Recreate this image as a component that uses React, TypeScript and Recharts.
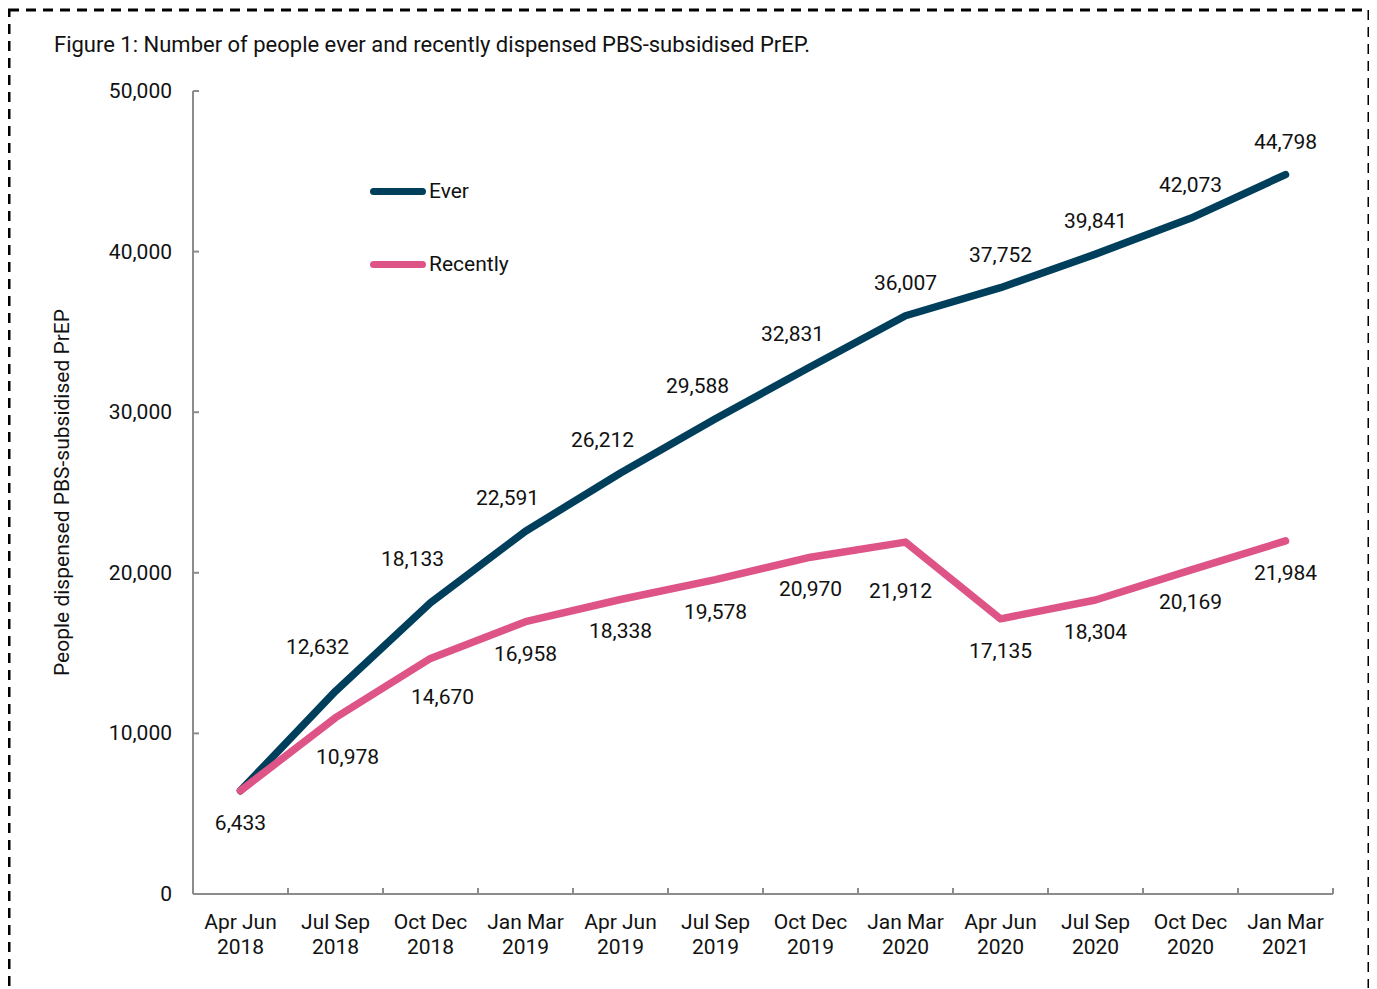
import { CartesianGrid, LabelList, Line, LineChart, XAxis, YAxis } from "recharts";

const QUARTERS = [
  "Apr Jun 2018", "Jul Sep 2018", "Oct Dec 2018", "Jan Mar 2019",
  "Apr Jun 2019", "Jul Sep 2019", "Oct Dec 2019", "Jan Mar 2020",
  "Apr Jun 2020", "Jul Sep 2020", "Oct Dec 2020", "Jan Mar 2021",
];
const EVER = [6433, 12632, 18133, 22591, 26212, 29588, 32831, 36007, 37752, 39841, 42073, 44798];
const RECENTLY = [6433, 10978, 14670, 16958, 18338, 19578, 20970, 21912, 17135, 18304, 20169, 21984];
const Y_TICKS = [0, 10000, 20000, 30000, 40000, 50000];
const SERIES = ["Ever", "Recently"];
const COLORS = ["#003f5c", "#de5486"];

const TITLE = "Figure 1: Number of people ever and recently dispensed PBS-subsidised PrEP.";
const Y_LABEL = "People dispensed PBS-subsidised PrEP";

const W = 1361;
const H = 980;
const MARGIN = { top: 83, right: 36, left: 105, bottom: 34 };
const Y_AXIS_W = 80;
const X_AXIS_H = 60;
const BAND = (W - MARGIN.left - Y_AXIS_W - MARGIN.right) / QUARTERS.length;
const AXIS_COLOR = "#8c8c8c";
const FONT = "Roboto, 'Noto Sans', sans-serif";
const FS = 21;

const data = QUARTERS.map((q, i) => ({ quarter: q, ever: EVER[i], recently: RECENTLY[i] }));

const fmt = (v: number) => v.toLocaleString("en-US");

function XTick(props: any) {
  const { x, y, payload, index } = props;
  const label: string = payload.value;
  const cut = label.lastIndexOf(" ");
  const isLast = index === QUARTERS.length - 1;
  return (
    <g>
      {index > 0 && (
        <line x1={x - BAND / 2} x2={x - BAND / 2} y1={y} y2={y - 6} stroke={AXIS_COLOR} strokeWidth={2} />
      )}
      {isLast && (
        <line x1={x + BAND / 2} x2={x + BAND / 2} y1={y} y2={y - 6} stroke={AXIS_COLOR} strokeWidth={2} />
      )}
      <text x={x} y={y + 35} textAnchor="middle" fontSize={FS} fill="#111" fontFamily={FONT}>
        {label.slice(0, cut)}
      </text>
      <text x={x} y={y + 60} textAnchor="middle" fontSize={FS} fill="#111" fontFamily={FONT}>
        {label.slice(cut + 1)}
      </text>
    </g>
  );
}

function YTick(props: any) {
  const { x, y, payload } = props;
  return (
    <g>
      <line x1={x} x2={x + 6} y1={y} y2={y} stroke={AXIS_COLOR} strokeWidth={2} />
      <text x={x - 21} y={y} textAnchor="end" dominantBaseline="central" fontSize={FS} fill="#111" fontFamily={FONT}>
        {fmt(payload.value)}
      </text>
    </g>
  );
}

function EverLabel(props: any) {
  const { x, y, value, index } = props;
  if (index === 0) return null;
  const rise = EVER[index] - EVER[index - 1];
  const dx = rise > 3200 ? -18 : 0;
  const dy = rise > 5000 ? -44 : -33;
  return (
    <text x={x + dx} y={y + dy} textAnchor="middle" dominantBaseline="central" fontSize={FS} fill="#111" fontFamily={FONT}>
      {fmt(value)}
    </text>
  );
}

function RecentLabel(props: any) {
  const { x, y, value, index } = props;
  const rise = index > 0 ? RECENTLY[index] - RECENTLY[index - 1] : 0;
  const drop = index < RECENTLY.length - 1 ? RECENTLY[index] - RECENTLY[index + 1] : 0;
  let dx = 0;
  let dy = 32;
  if (rise > 3000) {
    dx = 12;
    dy += 7;
  }
  if (drop > 2000) {
    dx = -5;
    dy += 17;
  }
  return (
    <text x={x + dx} y={y + dy} textAnchor="middle" dominantBaseline="central" fontSize={FS} fill="#111" fontFamily={FONT}>
      {fmt(value)}
    </text>
  );
}

function YAxisTitle(props: any) {
  const { viewBox } = props;
  const cx = viewBox.x - 51;
  const cy = viewBox.y + viewBox.height / 2;
  return (
    <text
      x={cx}
      y={cy}
      transform={`rotate(-90, ${cx}, ${cy})`}
      textAnchor="middle"
      dominantBaseline="central"
      fontSize={FS}
      fill="#111"
      fontFamily={FONT}
    >
      {Y_LABEL}
    </text>
  );
}

export default function App() {
  return (
    <div style={{ position: "relative", width: W, height: H, fontFamily: FONT }}>
      <svg width={W} height={H + 20} style={{ position: "absolute", left: 0, top: 0 }}>
        <rect x={1} y={2} width={1360} height={1100} fill="none" stroke="#000" strokeWidth={3} strokeDasharray="10 7" />
      </svg>
      <div style={{ position: "absolute", left: 46, top: 24, fontSize: 22, color: "#111", whiteSpace: "nowrap" }}>
        {TITLE}
      </div>
      <div style={{ position: "absolute", left: 0, top: 0 }}>
        <LineChart width={W} height={H} data={data} margin={MARGIN}>
          <CartesianGrid stroke="none" />
          <XAxis
            dataKey="quarter"
            scale="band"
            interval={0}
            height={X_AXIS_H}
            tickLine={false}
            tickSize={0}
            tickMargin={0}
            axisLine={{ stroke: AXIS_COLOR, strokeWidth: 2 }}
            tick={<XTick />}
          />
          <YAxis
            width={Y_AXIS_W}
            domain={[0, 50000]}
            ticks={Y_TICKS}
            interval={0}
            tickLine={false}
            tickSize={0}
            tickMargin={0}
            axisLine={{ stroke: AXIS_COLOR, strokeWidth: 2 }}
            tick={<YTick />}
            label={<YAxisTitle />}
          />
          <Line
            dataKey="ever"
            name={SERIES[0]}
            stroke={COLORS[0]}
            strokeWidth={7.5}
            strokeLinecap="round"
            strokeLinejoin="round"
            dot={false}
            activeDot={false}
            isAnimationActive={false}
          >
            <LabelList dataKey="ever" content={<EverLabel />} />
          </Line>
          <Line
            dataKey="recently"
            name={SERIES[1]}
            stroke={COLORS[1]}
            strokeWidth={7.5}
            strokeLinecap="round"
            strokeLinejoin="round"
            dot={false}
            activeDot={false}
            isAnimationActive={false}
          >
            <LabelList dataKey="recently" content={<RecentLabel />} />
          </Line>
        </LineChart>
      </div>
      {SERIES.map((name, i) => (
        <div key={name} style={{ position: "absolute", left: 362, top: 171 + i * 73, height: 24, display: "flex", alignItems: "center" }}>
          <div style={{ width: 56, height: 7, borderRadius: 4, background: COLORS[i] }} />
          <span style={{ marginLeft: 3, fontSize: FS, color: "#111", lineHeight: "24px" }}>{name}</span>
        </div>
      ))}
    </div>
  );
}
